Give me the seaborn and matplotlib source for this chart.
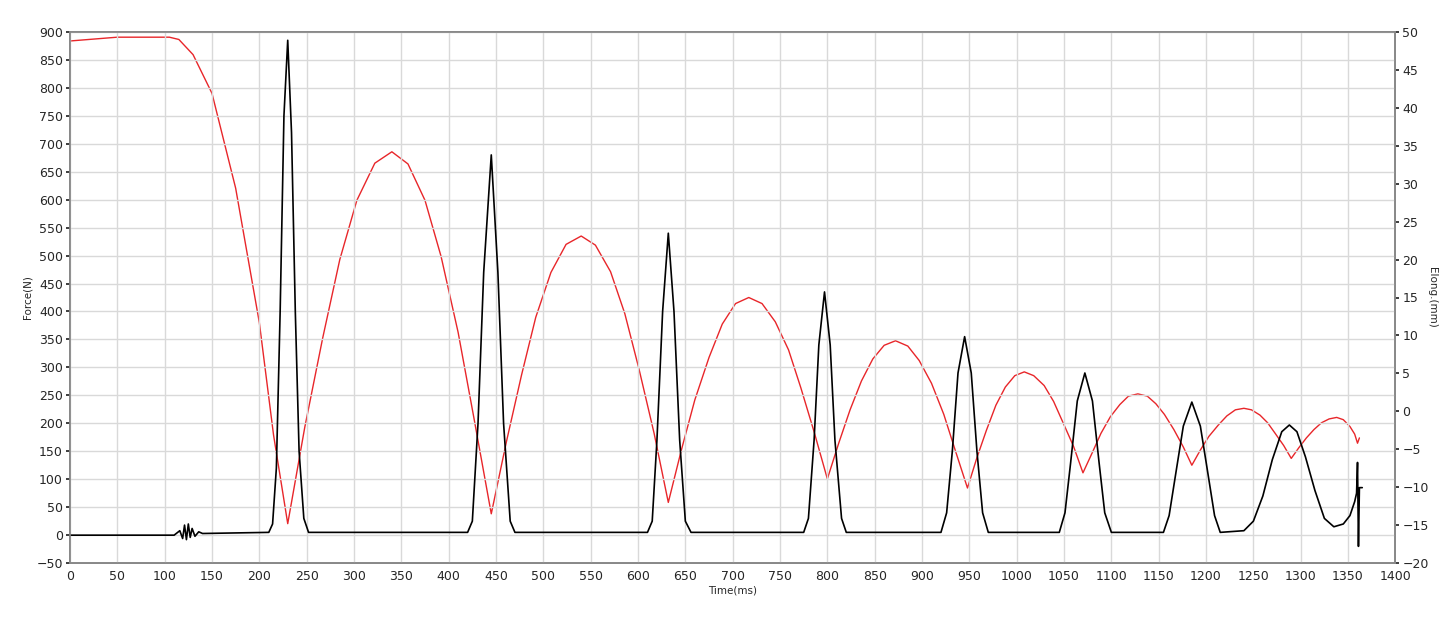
import numpy as np
import pandas as pd
import matplotlib
matplotlib.use("Agg")
import matplotlib.pyplot as plt
import seaborn as sns

# Force trace (black)
force_t = [0, 110, 116, 119, 121, 123, 125, 127, 129, 132, 136, 140, 210,
           214, 218, 222, 226, 230, 234, 238, 242, 247, 252,
           420, 425, 431, 437, 445, 452, 458, 465, 470,
           610, 615, 620, 626, 632, 638, 644, 650, 656,
           775, 780, 786, 791, 797, 803, 808, 815, 820,
           920, 926, 932, 938, 945, 952, 958, 964, 970,
           1045, 1051, 1057, 1064, 1072, 1080, 1087, 1093, 1100,
           1155, 1161, 1168, 1176, 1185, 1194, 1202, 1209, 1215,
           1240, 1250, 1260, 1270, 1280, 1288, 1296, 1305, 1315, 1325, 1335, 1345,
           1352, 1357, 1359, 1360, 1361, 1362, 1365]
force_n = [0, 0, 8, -6, 18, -8, 20, -4, 12, -2, 6, 3, 5,
           20, 120, 400, 750, 885, 720, 400, 150, 30, 5,
           5, 25, 200, 470, 680, 470, 200, 25, 5,
           5, 25, 170, 400, 540, 400, 170, 25, 5,
           5, 30, 170, 340, 435, 340, 170, 30, 5,
           5, 40, 150, 290, 355, 290, 150, 40, 5,
           5, 40, 130, 240, 290, 240, 130, 40, 5,
           5, 35, 110, 195, 238, 195, 110, 35, 5,
           8, 25, 70, 135, 185, 197, 185, 140, 80, 30, 15, 20,
           35, 60, 75, 130, -20, 85, 85]

# Elongation trace (red)
elong_t = [0, 50, 105, 115, 130, 150, 175, 200, 215, 230,
           248, 267, 285, 303, 322, 340, 357, 375, 392, 410, 427, 445,
           461, 477, 492, 508, 524, 540, 555, 571, 586, 601, 617, 632,
           646, 660, 675, 689, 703, 717, 731, 745, 759, 772, 786, 800,
           812, 824, 836, 848, 860, 872, 885, 897, 910, 923, 935, 948,
           958, 968, 978, 988, 998, 1008, 1018, 1029, 1039, 1049, 1060, 1070,
           1080, 1089, 1099, 1109, 1118, 1128, 1138, 1147, 1156, 1166, 1176, 1185,
           1194, 1203, 1213, 1222, 1231, 1240, 1248, 1257, 1265, 1273, 1282, 1290,
           1298, 1306, 1314, 1322, 1330, 1338, 1345, 1352, 1357, 1360, 1362]
elong_mm = [48.8, 49.3, 49.3, 49.0, 47.0, 41.9, 29.4, 11.7, -3.1, -14.8,
            -2.1, 9.7, 20.0, 27.8, 32.7, 34.2, 32.6, 27.8, 20.4, 10.4, -1.1, -13.5,
            -4.0, 4.8, 12.4, 18.3, 22.0, 23.1, 21.9, 18.4, 12.9, 5.6, -2.9, -12.0,
            -5.0, 1.5, 7.1, 11.5, 14.2, 15.0, 14.2, 11.8, 8.1, 3.1, -2.7, -8.9,
            -4.2, 0.2, 4.0, 6.9, 8.7, 9.3, 8.6, 6.7, 3.7, -0.4, -5.1, -10.1,
            -6.1, -2.5, 0.8, 3.2, 4.7, 5.2, 4.7, 3.4, 1.3, -1.5, -4.6, -8.1,
            -5.4, -2.9, -0.7, 0.9, 2.0, 2.3, 2.0, 1.0, -0.4, -2.4, -4.7, -7.1,
            -5.1, -3.3, -1.8, -0.6, 0.2, 0.4, 0.2, -0.5, -1.5, -2.9, -4.5, -6.2,
            -4.8, -3.5, -2.4, -1.5, -1.0, -0.8, -1.1, -2.0, -3.0, -4.2, -3.5]

df_f = pd.DataFrame({"t": force_t, "F": force_n})
df_e = pd.DataFrame({"t": elong_t, "E": elong_mm})

sns.set_theme(style="whitegrid", rc={"grid.color": "#d9d9d9", "axes.edgecolor": "#888888"})
plt.rcParams['font.family'] = ['DejaVu Sans']

fig = plt.figure(figsize=(14.43, 6.25), dpi=100)
ax = fig.add_axes([0.0485, 0.099, 0.9185, 0.85])
ax2 = ax.twinx()

sns.lineplot(data=df_e, x="t", y="E", ax=ax2, color="#e8262a", linewidth=1.0, sort=False)
sns.lineplot(data=df_f, x="t", y="F", ax=ax, color="black", linewidth=1.2, sort=False)
ax.set_zorder(ax2.get_zorder() + 1)
ax.patch.set_visible(False)

ax.set_xlim(0, 1400)
ax.set_ylim(-50, 900)
ax2.set_ylim(-20, 50)
ax.set_xticks(np.arange(0, 1401, 50))
ax.set_yticks(np.arange(-50, 901, 50))
ax2.set_yticks(np.arange(-20, 51, 5))
ax2.grid(False)
for a in (ax, ax2):
    a.tick_params(labelsize=9, length=3, pad=2)
ax.set_xlabel("Time(ms)", fontsize=7.5, labelpad=2)
ax.set_ylabel("Force(N)", fontsize=7.5, labelpad=3)
ax2.set_ylabel("Elong.(mm)", fontsize=7.5, rotation=270, labelpad=6)

fig.savefig("out.png", dpi=100, facecolor="white")
